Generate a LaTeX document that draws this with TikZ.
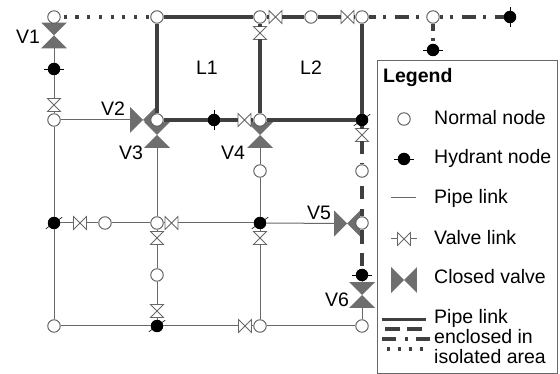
\documentclass[tikz,border=0pt]{standalone}
\usepackage{fontspec}
\setmainfont{Liberation Sans}
\definecolor{pipegray}{HTML}{686868}
\definecolor{isogray}{HTML}{404040}
\definecolor{closedgray}{HTML}{6E6E6E}
\tikzset{
	nnode/.style={circle,draw=pipegray!85!black,fill=white,line width=0.9pt,minimum size=12.5pt,inner sep=0pt},
	hnode/.style={circle,fill=black,minimum size=12.5pt,inner sep=0pt,append after command={\pgfextra{\draw[black,line width=0.6pt] ([shift={(#1:10)}]\tikzlastnode.center) -- ([shift={(#1+180:10)}]\tikzlastnode.center);}}},
	valveh/.style={minimum size=12.5pt,inner sep=0pt,append after command={\pgfextra{\draw[pipegray,fill=white,line width=0.8pt] (\tikzlastnode.north west) -- (\tikzlastnode.south east) -- (\tikzlastnode.north east) -- (\tikzlastnode.south west) -- cycle;}}},
	valvev/.style={minimum size=12.5pt,inner sep=0pt,append after command={\pgfextra{\draw[pipegray,fill=white,line width=0.8pt] (\tikzlastnode.north west) -- (\tikzlastnode.south east) -- (\tikzlastnode.south west) -- (\tikzlastnode.north east) -- cycle;}}},
	closedh/.style={minimum size=25.5pt,inner sep=0pt,append after command={\pgfextra{\fill[closedgray] (\tikzlastnode.north west) -- (\tikzlastnode.south east) -- (\tikzlastnode.north east) -- (\tikzlastnode.south west) -- cycle;}}},
	closedv/.style={minimum size=25.5pt,inner sep=0pt,append after command={\pgfextra{\fill[closedgray] (\tikzlastnode.north west) -- (\tikzlastnode.south east) -- (\tikzlastnode.south west) -- (\tikzlastnode.north east) -- cycle;}}},
	pipe/.style={draw=pipegray,line width=1pt},
	isopipe/.style={draw=isogray,line width=3.4pt},
	isodash/.style={draw=isogray,line width=3.4pt,dash pattern=on 14pt off 8pt},
	isodot/.style={draw=isogray,line width=3.4pt,dash pattern=on 14pt off 7.5pt on 3pt off 8.5pt},
	isosmall/.style={draw=isogray,line width=3.2pt,dash pattern=on 3.2pt off 8.5pt},
	lab/.style={font=\fontsize{19.5}{20}\selectfont,text=black,inner sep=0pt},
	legendbox/.style={draw=pipegray,line width=0.9pt,minimum width=180pt,minimum height=313pt,inner sep=0pt}
}
\begin{document}
\begin{tikzpicture}[x=1pt,y=-1pt]
	\useasboundingbox (0,0) rectangle (560,374);
	\node[closedv] (v1) at (54,35.5) {};
	\node[closedh] (v2) at (143,120) {};
	\node[closedv] (v3) at (157,135) {};
	\node[closedv] (v4) at (260,135) {};
	\node[closedh] (v5) at (347,223.5) {};
	\node[closedv] (v6) at (362,295) {};
	\node[nnode] (n1) at (54,17) {};
	\node[nnode] (n2) at (157,17) {};
	\node[nnode] (n3) at (260,17) {};
	\node[nnode] (n4) at (311,17) {};
	\node[nnode] (n5) at (362,17) {};
	\node[nnode] (n6) at (433,17) {};
	\node[hnode=90] (h1) at (510,17) {};
	\node[hnode=0] (h2) at (433,50) {};
	\node[hnode=0] (h3) at (54,69) {};
	\node[nnode] (n7) at (54,120) {};
	\node[nnode] (n8) at (157,120) {};
	\node[hnode=90] (h4) at (214,120) {};
	\node[nnode] (n9) at (260,120) {};
	\node[hnode=-35] (h5) at (362,120) {};
	\node[nnode] (n10) at (260,171) {};
	\node[nnode] (n11) at (362,171) {};
	\node[hnode=-35] (h6) at (54,223) {};
	\node[nnode] (n12) at (105,223) {};
	\node[nnode] (n13) at (157,223) {};
	\node[hnode=-35] (h7) at (260,223) {};
	\node[nnode] (n14) at (362,223) {};
	\node[nnode] (n15) at (157,275) {};
	\node[hnode=0] (h8) at (362,275) {};
	\node[nnode] (n16) at (54,326) {};
	\node[hnode=-35] (h9) at (157,326) {};
	\node[nnode] (n17) at (260,326) {};
	\node[nnode] (n18) at (362,326) {};
	\node[valveh] (a1) at (275.5,17) {};
	\node[valveh] (a2) at (347.5,17) {};
	\node[valveh] (a3) at (244.5,120) {};
	\node[valveh] (a4) at (80,223) {};
	\node[valveh] (a5) at (171.5,223) {};
	\node[valveh] (a6) at (245,326) {};
	\node[valvev] (b1) at (260,33) {};
	\node[valvev] (b2) at (54,105) {};
	\node[valvev] (b3) at (362,135) {};
	\node[valvev] (b4) at (157,238) {};
	\node[valvev] (b5) at (260,238) {};
	\node[valvev] (b6) at (157,311) {};
	\draw[isosmall,shorten <=3pt] (n1) -- (n2);
	\draw[isopipe] (n2) -- (n3);
	\draw[isopipe] (n3) -- (a1);
	\draw[isopipe] (a1) -- (n4);
	\draw[isopipe] (n4) -- (a2);
	\draw[isopipe] (a2) -- (n5);
	\draw[isopipe] (n3) -- (b1);
	\draw[isopipe] (b1) -- (n9);
	\draw[isopipe] (n2) -- (n8);
	\draw[isopipe] (n5) -- (h5);
	\draw[isopipe] (n8) -- (h4);
	\draw[isopipe] (h4) -- (a3);
	\draw[isopipe] (a3) -- (n9);
	\draw[isopipe] (n9) -- (h5);
	\draw[isopipe] (h5) -- (b3);
	\draw[isodot,dash phase=7pt] (n5) -- (n6);
	\draw[isodot,dash phase=11pt] (n6) -- (h1);
	\draw[isodot,dash phase=7pt] (n6) -- (h2);
	\draw[isodash,dash pattern=on 13pt off 9pt on 2pt off 9pt] (b3) -- (n11);
	\draw[isodash,dash pattern=on 0pt off 8pt on 13pt off 10pt on 20pt off 9pt] (n11) -- (n14);
	\draw[isodash,dash pattern=on 14pt off 9pt on 13pt off 9pt] (n14) -- (h8);
	\draw[pipe] (v1) -- (h3);
	\draw[pipe] (h3) -- (b2);
	\draw[pipe] (b2) -- (n7);
	\draw[pipe] (n7) -- (v2);
	\draw[pipe] (n7) -- (h6);
	\draw[pipe] (h6) -- (n16);
	\draw[pipe] (n16) -- (h9);
	\draw[pipe] (h9) -- (a6);
	\draw[pipe] (a6) -- (n17);
	\draw[pipe] (n17) -- (n18);
	\draw[pipe] (h6) -- (a4);
	\draw[pipe] (a4) -- (n12);
	\draw[pipe] (n12) -- (n13);
	\draw[pipe] (n13) -- (a5);
	\draw[pipe] (a5) -- (h7);
	\draw[pipe] (h7) -- (v5);
	\draw[pipe] (v3) -- (n13);
	\draw[pipe] (n13) -- (b4);
	\draw[pipe] (b4) -- (n15);
	\draw[pipe] (n15) -- (b6);
	\draw[pipe] (b6) -- (h9);
	\draw[pipe] (v4) -- (n10);
	\draw[pipe] (n10) -- (h7);
	\draw[pipe] (h7) -- (b5);
	\draw[pipe] (b5) -- (n17);
	\draw[pipe] (h8) -- (v6);
	\draw[pipe] (v6) -- (n18);
	\node[lab] (l1) at (207,68) {L1};
	\node[lab] (l2) at (311,68) {L2};
	\node[lab] (t1) at (28,37) {V1};
	\node[lab] (t2) at (113,109) {V2};
	\node[lab] (t3) at (131,153) {V3};
	\node[lab] (t4) at (233,153) {V4};
	\node[lab] (t5) at (319,213) {V5};
	\node[lab] (t6) at (337,300) {V6};
	\node[legendbox] (legend) at (467,216.5) {};
	\node[lab,anchor=west,font=\fontsize{19.5}{20}\selectfont\bfseries] (title) at (383,78) {Legend};
	\node[nnode] (k1) at (404,119) {};
	\node[hnode=0] (k2) at (404,159) {};
	\coordinate (k3a) at (391,198);
	\coordinate (k3b) at (416,198);
	\draw[pipe] (k3a) -- (k3b);
	\coordinate (k4a) at (391,239);
	\coordinate (k4b) at (417,239);
	\node[valveh] (k4) at (404,239) {};
	\draw[pipe] (k4a) -- (k4);
	\draw[pipe] (k4) -- (k4b);
	\node[closedh] (k5) at (404,280) {};
	\coordinate (k6a) at (382,319.5);
	\coordinate (k6b) at (426,319.5);
	\draw[isopipe] (k6a) -- (k6b);
	\coordinate (k7a) at (385,329);
	\coordinate (k7b) at (422,329);
	\draw[isodash,dash pattern=on 15pt off 7pt] (k7a) -- (k7b);
	\coordinate (k8a) at (382,339);
	\coordinate (k8b) at (430,339);
	\draw[isodot,dash pattern=on 14pt off 8.5pt on 3pt off 8.5pt] (k8a) -- (k8b);
	\coordinate (k9a) at (386.5,349);
	\coordinate (k9b) at (423,349);
	\draw[isosmall,dash pattern=on 3.2pt off 8pt] (k9a) -- (k9b);
	\node[lab,anchor=west] (d1) at (434,118) {Normal node};
	\node[lab,anchor=west] (d2) at (434,158) {Hydrant node};
	\node[lab,anchor=west] (d3) at (434,198) {Pipe link};
	\node[lab,anchor=west] (d4) at (434,238) {Valve link};
	\node[lab,anchor=west] (d5) at (434,277) {Closed valve};
	\node[lab,anchor=west,align=left] (d6) at (434,337) {Pipe link\\enclosed in\\isolated area};
\end{tikzpicture}
\end{document}
